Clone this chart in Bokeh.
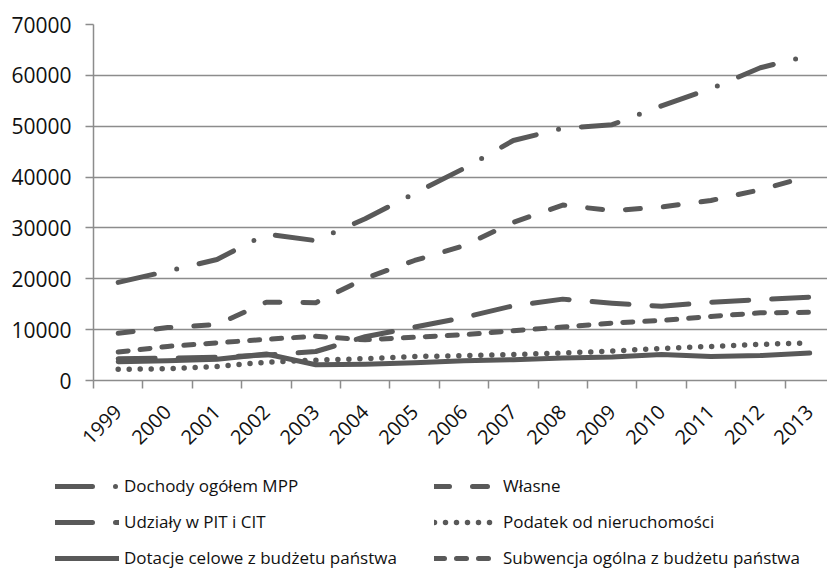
import math
from bokeh.plotting import figure
from bokeh.layouts import column
from bokeh.models import Range1d, FixedTicker, Legend, LegendItem, BasicTickFormatter, CustomJSTickFormatter
from bokeh.embed import file_html
from bokeh.resources import INLINE

years = list(range(1999, 2014))
y_ticks = [0, 10000, 20000, 30000, 40000, 50000, 60000, 70000]

dochody = [19300, 21500, 23800, 28800, 27500, 31800, 36800, 41700, 47200, 49600, 50300, 54000, 57400, 61500, 63900]
wlasne = [9300, 10400, 11000, 15400, 15300, 20100, 23600, 26500, 31100, 34500, 33400, 34100, 35400, 37500, 40200]
udzialy = [4300, 4400, 4600, 5000, 5700, 8600, 10500, 12400, 14700, 16000, 15200, 14600, 15400, 15900, 16400]
podatek = [2200, 2300, 2750, 3600, 4000, 4300, 4700, 4900, 5100, 5400, 5800, 6300, 6700, 7100, 7400]
dotacje = [3700, 3900, 4200, 5200, 3100, 3200, 3500, 3900, 4100, 4400, 4600, 5100, 4700, 4900, 5400]
subwencja = [5600, 6700, 7400, 8100, 8700, 8000, 8500, 9000, 9800, 10500, 11300, 11800, 12600, 13300, 13400]

names = ["Dochody ogółem MPP", "Własne", "Udziały w PIT i CIT", "Podatek od nieruchomości",
         "Dotacje celowe z budżetu państwa", "Subwencja ogólna z budżetu państwa"]

GRAY = "#595959"
AX = "#8c8c8c"
FONT = "Open Sans"

p = figure(width=827, height=465, output_backend="svg", toolbar_location=None,
           x_range=Range1d(1998.5, 2013.36), y_range=Range1d(0, 70000),
           min_border_left=93, min_border_right=0, min_border_top=24, min_border_bottom=85)
p.frame_align = False
p.outline_line_color = None
p.background_fill_color = "white"
p.border_fill_color = "white"

p.xgrid.grid_line_color = None
p.ygrid.grid_line_color = AX
p.ygrid.grid_line_width = 1.5

p.yaxis.ticker = FixedTicker(ticks=y_ticks)
p.yaxis.formatter = BasicTickFormatter(use_scientific=False)
p.yaxis.axis_line_color = AX
p.yaxis.axis_line_width = 1.5
p.yaxis.major_tick_line_color = AX
p.yaxis.major_tick_line_width = 1.5
p.yaxis.major_tick_out = 8
p.yaxis.major_tick_in = 0
p.yaxis.minor_tick_line_color = None
p.yaxis.major_label_standoff = 14
p.yaxis.major_label_text_font = FONT
p.yaxis.major_label_text_font_size = "21px"
p.yaxis.major_label_text_color = "#111111"

bounds = [y - 0.5 for y in years] + [years[-1] + 0.5]
p.xaxis.ticker = FixedTicker(ticks=years, minor_ticks=bounds)
p.xaxis.formatter = CustomJSTickFormatter(code="return String(Math.round(tick));")
p.xaxis.axis_line_color = AX
p.xaxis.axis_line_width = 1.5
p.xaxis.major_tick_line_color = None
p.xaxis.major_tick_out = 0
p.xaxis.major_tick_in = 0
p.xaxis.minor_tick_line_color = AX
p.xaxis.minor_tick_line_width = 1.5
p.xaxis.minor_tick_out = 8
p.xaxis.minor_tick_in = 0
p.xaxis.major_label_orientation = math.pi / 4
p.xaxis.major_label_standoff = 20
p.xaxis.major_label_text_font = FONT
p.xaxis.major_label_text_font_size = "20px"
p.xaxis.major_label_text_color = "#111111"

series = [dochody, wlasne, udzialy, podatek, dotacje, subwencja]
dashes = ["37 23 0 23", "15 23", "37 23", "0 11", "solid", "10 12"]
widths = [5, 5, 5, 5.5, 5, 5]
style = dict(line_color=GRAY, line_cap="round", line_join="round")
for vals, d, w in zip(series, dashes, widths):
    p.line(years, vals, line_width=w, line_dash=d, **style)

# legend panel below the chart
lf = figure(width=827, height=107, output_backend="svg", toolbar_location=None,
            x_range=Range1d(0, 1), y_range=Range1d(0, 1),
            min_border_left=0, min_border_right=0, min_border_top=0, min_border_bottom=0)
lf.frame_align = False
lf.axis.visible = False
lf.grid.visible = False
lf.outline_line_color = None
lf.border_fill_color = "white"
lf.background_fill_color = "white"
nan = float("nan")
leg_renderers = [lf.line([nan], [nan], line_width=w, line_dash=d, **style) for d, w in zip(dashes, widths)]

order = [0, 2, 4, 1, 3, 5]
items = [LegendItem(label=names[i], renderers=[leg_renderers[i]]) for i in order]
legend = Legend(items=items, location=(55, 3), orientation="vertical", ncols=2,
                glyph_width=64, glyph_height=20, label_standoff=5, label_width=297,
                label_height=20, spacing=13, padding=0, margin=0,
                border_line_color=None, background_fill_alpha=0,
                label_text_font=FONT, label_text_font_size="17px",
                label_text_color="#111111")
lf.add_layout(legend)

open("out.html", "w").write(file_html(column(p, lf, spacing=0), INLINE))
